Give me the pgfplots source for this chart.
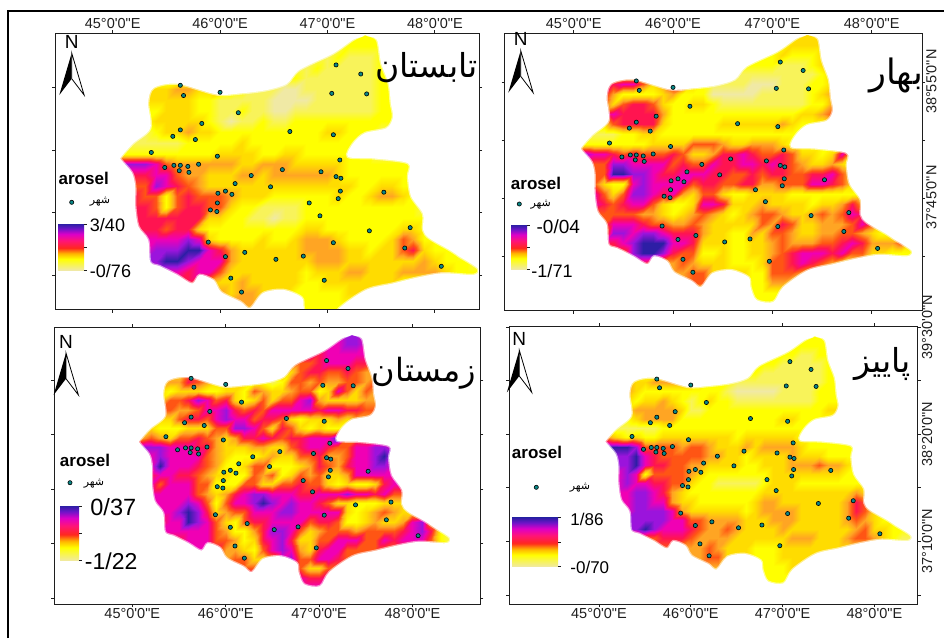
\documentclass[border=0pt]{standalone}
\usepackage{pgfplots}
\usepackage{pgfplotstable}
\usepackage{fontspec}
\pgfplotsset{compat=1.18}
\newfontfamily\lib{Liberation Sans}
\newfontfamily\arabicfont[Script=Arabic]{DejaVu Sans}
\TeXXeTstate=1
\newcommand\F[1]{\lib\fontsize{#1}{#1}\selectfont}
\definecolor{citycol}{RGB}{10,135,135}
\definecolor{tickcol}{RGB}{30,30,30}
\pgfplotsset{colormap={arosel}{rgb255(0)=(240,233,165) rgb255(1)=(248,243,90) rgb255(2)=(255,255,0) rgb255(3)=(255,220,0) rgb255(4)=(255,165,35) rgb255(5)=(255,85,20) rgb255(6)=(255,20,80) rgb255(7)=(240,0,180) rgb255(8)=(155,20,220) rgb255(9)=(45,30,165)}}
\pgfdeclareverticalshading{aroselbar}{100bp}{rgb(0bp)=(.941,.914,.647);
 rgb(25bp)=(.941,.914,.647); rgb(37bp)=(1,1,0); rgb(43bp)=(1,.706,0); rgb(49bp)=(1,.157,.118); rgb(57bp)=(1,.078,.47); rgb(64bp)=(.863,0,.784); rgb(70bp)=(.431,.078,.784); rgb(75bp)=(.176,.118,.647); rgb(100bp)=(.176,.118,.647)}
\ExplSyntaxOn
\seq_new:N \l_heat_rows_seq
\seq_new:N \l_heat_vals_seq
\tl_new:N \l_heat_out_tl
\int_new:N \l_heat_row_int
\NewDocumentCommand\BuildGrid{mm}{
  \tl_clear:N \l_heat_out_tl
  \int_zero:N \l_heat_row_int
  \seq_set_split:Nnn \l_heat_rows_seq {;} {#2}
  \seq_map_inline:Nn \l_heat_rows_seq {
    \seq_set_split:Nnn \l_heat_vals_seq {~} {##1}
    \seq_remove_all:Nn \l_heat_vals_seq {}
    \int_compare:nNnF {\seq_count:N \l_heat_vals_seq} = {35}
      {\iow_term:x {ROW~\int_use:N \l_heat_row_int ~ has ~ \seq_count:N \l_heat_vals_seq}}
    \int_step_inline:nn {35} {
      \tl_put_right:Nx \l_heat_out_tl {
        (\fp_eval:n {45+0.1*(####1-1)},\fp_eval:n {39.4-0.1*\l_heat_row_int})
        [\seq_item:Nn \l_heat_vals_seq {####1}]~
      }
    }
    \int_incr:N \l_heat_row_int
  }
  \tl_set_eq:NN #1 \l_heat_out_tl
}
\ExplSyntaxOff
\BuildGrid\gridSummer{
1 1 1 1 1 1 1 1 1 1 1 1 1 1 1 1 1 1 1 1 1 1 1 2 2 2 1 1 1 1 1 1 1 1 1;
1 1 1 1 1 1 1 1 1 1 1 1 1 1 1 1 1 1 1 1 1 1 2 2 2 2 1 1 1 1 1 1 1 1 1;
1 1 1 1 1 1 1 1 1 1 1 1 1 1 1 1 1 1 1 1 1 2 1 1 1 2 2 1 1 1 1 1 1 1 1;
1 1 1 1 1 1 1 1 1 1 1 1 1 1 1 1 1 1 1 2 1 1 1 1 1 2 2 1 1 1 1 1 1 1 1;
1 1 1 1 1 1 1 1 1 1 1 1 1 1 1 1 1 2 1 1 1 1 1 1 1 2 2 1 1 1 1 1 1 1 1;
1 1 1 3 3 3 4 4 3 3 4 3 2 1 1 1 0 0 1 1 1 1 1 1 1 2 2 1 1 1 1 1 1 1 1;
1 1 1 3 3 3 3 3 2 2 1 1 1 1 1 0 0 0 0 1 1 1 1 1 1 2 2 1 1 1 1 1 1 1 1;
1 1 1 2 2 3 3 3 2 2 1 1 2 1 1 0 0 1 1 1 1 1 1 1 1 2 2 2 1 1 1 1 1 1 1;
1 1 1 2 3 3 3 3 3 2 1 0 1 1 2 1 1 2 2 2 2 2 2 2 2 2 2 2 1 1 1 1 1 1 1;
1 1 1 1 2 3 3 4 3 3 2 2 2 2 2 2 2 2 2 2 3 3 2 2 2 1 1 1 1 1 1 1 1 1 1;
1 1 1 1 1 1 1 2 2 2 2 2 3 2 2 2 2 2 2 2 2 2 2 1 1 1 1 1 1 1 1 1 1 1 1;
1 2 2 2 2 2 2 2 2 2 3 3 3 3 2 2 3 3 2 2 2 2 2 2 2 1 1 1 1 1 1 1 1 1 1;
8 8 8 8 7 5 4 4 4 4 4 4 3 3 4 4 4 3 3 3 3 3 2 2 2 2 2 2 2 2 1 1 1 1 1;
6 6 6 6 7 7 5 4 4 3 3 3 4 4 3 4 4 4 4 4 4 3 2 2 2 2 2 2 2 2 1 1 1 1 1;
5 5 5 5 8 7 6 5 4 3 3 3 3 3 3 3 3 3 3 3 3 3 3 2 2 3 3 2 2 2 1 1 1 1 1;
6 6 6 5 5 2 5 6 5 5 5 4 3 3 3 2 2 2 2 2 2 3 2 2 3 4 4 3 2 1 1 1 1 1 1;
6 6 6 6 5 2 5 6 6 5 5 3 2 2 1 1 1 1 2 2 2 2 2 2 2 2 2 2 2 1 1 1 1 1 1;
6 6 6 6 6 6 6 6 6 3 3 2 2 1 1 0 1 1 2 2 2 2 2 2 2 2 2 2 2 2 1 1 1 1 1;
6 6 6 6 6 5 6 6 3 2 2 2 2 2 2 2 2 2 3 3 2 2 2 2 2 2 2 3 3 2 1 1 1 1 1;
7 7 7 7 7 7 7 8 7 3 2 2 2 2 3 2 2 3 4 4 4 3 2 2 2 2 3 5 4 2 2 2 1 1 1;
7 7 7 7 8 8 8 9 9 7 6 4 3 3 3 3 3 3 4 4 4 4 3 3 2 3 3 5 6 3 2 2 2 1 1;
8 8 8 8 8 9 9 8 7 7 7 4 3 3 3 3 3 3 3 4 4 4 3 3 3 3 3 3 3 4 3 2 2 2 1;
7 7 7 7 7 7 7 6 7 7 5 3 3 3 3 3 3 3 2 3 3 3 4 4 3 3 3 4 4 4 4 3 2 2 2;
6 6 6 6 6 6 6 6 5 4 3 3 4 3 3 3 3 3 2 2 3 3 3 3 3 3 3 2 2 2 2 2 2 2 2;
5 5 5 5 5 5 5 5 5 4 4 3 4 4 3 3 3 2 2 2 2 2 3 3 3 2 2 2 2 2 2 2 2 2 2;
4 4 4 4 4 4 4 4 4 4 4 4 4 4 3 3 2 2 2 2 2 2 2 2 2 2 2 2 2 2 2 2 2 2 2;
3 3 3 3 3 3 3 3 3 3 3 3 3 3 3 2 2 2 2 2 2 2 2 2 2 2 2 2 2 2 2 2 2 2 2;
3 3 3 3 3 3 3 3 3 3 3 3 3 3 3 2 2 2 2 2 2 2 2 2 2 2 2 2 2 2 2 2 2 2 2}
\BuildGrid\gridSpring{
2 2 2 2 2 2 2 2 2 2 2 2 2 2 2 2 2 2 2 2 2 2 2 3 3 3 3 2 2 2 2 2 2 2 2;
2 2 2 2 2 2 2 2 2 2 2 2 2 2 2 2 2 2 2 2 2 2 3 3 3 3 3 2 2 2 2 2 2 2 2;
2 2 2 2 2 2 2 2 2 2 2 2 2 2 2 2 2 2 2 2 2 3 2 2 2 3 3 2 2 2 2 2 2 2 2;
2 2 2 2 2 2 2 2 2 2 2 2 2 2 2 2 2 2 2 2 2 1 1 1 2 3 4 2 2 2 2 2 2 2 2;
2 2 2 2 2 2 2 2 2 2 2 2 2 2 2 1 1 1 1 1 1 1 1 1 1 2 3 2 2 2 2 2 2 2 2;
2 2 2 5 6 7 7 5 3 4 6 6 3 2 1 1 1 1 0 0 0 1 1 1 2 2 3 3 2 2 2 2 2 2 2;
2 2 3 6 4 2 2 2 2 3 4 2 2 2 0 0 0 0 0 1 1 1 1 1 2 3 4 3 2 2 2 2 2 2 2;
2 2 3 5 3 5 6 6 5 3 2 2 3 3 2 1 1 1 1 1 1 1 1 1 2 2 4 3 2 2 2 2 2 2 2;
2 2 3 6 7 6 6 6 6 4 2 2 2 2 2 2 2 2 2 2 2 2 2 3 3 4 5 4 2 2 2 2 2 2 2;
2 2 2 3 5 6 6 6 6 3 2 2 2 2 2 3 3 3 3 3 3 4 3 2 2 2 2 2 2 2 2 2 2 2 2;
1 1 1 1 1 2 2 3 3 2 2 2 2 2 2 2 2 2 2 2 2 2 2 2 2 2 2 2 2 2 2 2 2 2 2;
2 2 2 2 2 2 2 2 3 3 3 3 5 5 5 4 3 3 4 4 4 3 2 2 2 2 2 2 2 2 2 2 2 2 2;
7 8 7 7 6 5 6 5 5 5 6 5 3 3 4 6 6 7 6 5 5 6 5 3 3 2 3 7 3 2 2 2 2 2 2;
6 6 5 5 8 8 7 7 7 7 5 6 5 5 7 6 6 7 7 6 7 6 5 4 3 3 4 3 2 2 2 2 2 2 2;
5 5 5 5 9 9 8 8 7 6 6 7 7 7 6 6 5 5 6 5 6 6 5 5 6 6 7 5 3 2 2 2 2 2 2;
5 5 5 3 2 2 7 8 7 7 7 7 5 6 6 5 5 6 6 4 4 5 5 5 7 7 6 5 3 2 2 2 2 2 2;
7 7 7 5 3 5 8 8 7 6 7 4 3 5 5 3 2 2 3 3 3 3 2 2 2 2 2 2 2 2 2 2 2 2 2;
7 7 7 6 5 6 7 7 5 3 2 2 3 7 7 6 3 3 3 4 3 3 3 3 2 3 3 4 6 4 2 2 2 2 2;
5 5 5 5 5 5 5 4 4 3 2 3 4 5 4 3 2 3 4 5 5 4 3 3 4 5 4 5 7 6 3 2 2 2 2;
5 5 5 5 7 7 7 6 5 5 4 4 5 4 3 3 3 3 3 5 4 6 5 3 3 4 4 4 5 7 5 3 2 2 2;
4 4 4 4 8 8 7 8 8 7 6 6 6 4 3 3 2 2 4 3 5 5 4 3 3 4 4 5 5 4 3 2 2 2 2;
6 6 6 6 6 7 8 9 9 9 7 7 6 3 3 3 2 2 3 3 4 5 4 4 4 5 5 6 7 6 4 4 4 5 3;
5 5 5 5 5 5 8 9 9 8 6 5 5 2 2 3 2 2 3 3 4 5 6 7 7 7 6 7 5 5 3 3 2 2 2;
6 6 6 6 6 6 6 6 5 4 4 5 4 3 3 3 2 2 2 3 5 5 6 7 6 5 4 3 3 3 2 2 2 2 2;
4 4 4 4 4 4 4 4 4 4 4 4 5 5 3 3 3 3 2 2 5 5 5 4 4 3 3 3 3 3 2 2 2 2 2;
4 4 4 4 4 4 4 4 4 4 4 4 5 5 4 3 3 3 2 2 4 4 3 3 3 3 2 2 2 2 2 2 2 2 2;
2 2 2 2 2 2 2 2 2 2 2 2 2 2 2 2 2 2 2 2 2 2 2 2 2 2 2 2 2 2 2 2 2 2 2;
2 2 2 2 2 2 2 2 2 2 2 2 2 2 2 2 2 2 2 2 2 2 2 2 2 2 2 2 2 2 2 2 2 2 2}
\BuildGrid\gridWinter{
7 7 7 7 7 7 7 7 7 7 7 7 7 7 7 7 7 7 7 7 7 7 7 8 8 7 7 7 7 7 7 7 7 7 7;
7 7 7 7 7 7 7 7 7 7 7 7 7 7 7 7 7 7 7 7 7 7 7 8 8 7 7 7 7 7 7 7 7 7 7;
7 7 7 7 7 7 7 7 7 7 7 7 7 7 7 7 7 7 7 7 6 7 7 7 7 7 7 7 7 7 7 7 7 7 7;
5 5 5 5 5 5 5 5 5 5 5 5 5 5 5 5 5 5 5 5 6 7 7 7 6 6 5 5 5 5 5 5 5 5 5;
4 4 4 4 4 3 5 5 4 4 4 4 4 4 4 4 4 3 5 6 6 5 5 6 5 4 4 4 4 4 4 4 4 4 4;
3 3 3 3 4 4 6 5 4 3 3 3 3 2 2 1 2 5 5 4 5 4 4 5 5 4 5 4 4 4 4 4 4 4 4;
3 3 3 3 2 3 3 3 2 2 3 3 2 5 4 3 3 4 5 5 2 3 7 5 3 5 4 4 4 4 4 4 4 4 4;
3 3 3 3 5 5 6 8 7 5 6 3 2 3 5 3 5 5 7 8 4 3 3 3 3 4 4 4 4 4 4 4 4 4 4;
5 5 5 5 5 4 4 5 7 7 8 6 5 6 5 7 7 7 7 7 6 7 7 6 6 5 5 5 5 5 5 5 5 5 5;
3 3 3 3 3 5 6 6 5 7 8 7 7 5 6 6 5 3 2 3 3 3 4 3 4 4 4 4 4 4 4 4 4 4 4;
3 3 3 2 2 2 3 3 3 5 5 8 8 7 5 3 6 5 3 2 3 2 2 3 3 3 3 3 3 3 3 3 3 3 3;
2 4 5 4 3 5 5 6 5 4 3 4 6 6 7 6 5 6 6 7 7 7 9 5 5 5 5 5 5 5 5 5 5 5 5;
8 8 8 8 7 7 7 6 6 4 3 3 3 4 4 3 3 5 6 7 7 6 5 5 7 7 8 8 7 7 7 7 7 7 7;
7 7 7 8 7 7 7 7 5 4 3 2 2 2 3 4 3 3 5 5 6 4 4 5 7 7 8 9 7 7 7 7 7 7 7;
7 7 7 9 7 7 7 6 5 4 2 2 3 5 5 2 2 2 3 4 6 5 4 6 7 7 8 8 7 7 7 7 7 7 7;
6 6 6 7 7 6 6 5 4 3 3 2 2 5 4 5 2 3 5 4 5 3 3 4 7 7 7 7 7 8 7 7 7 7 7;
7 7 7 5 7 7 7 5 5 2 2 2 5 5 3 3 5 5 6 5 5 3 2 3 2 2 3 6 7 7 7 7 7 7 7;
7 7 7 7 7 7 7 5 4 3 4 6 7 8 8 7 7 7 6 6 7 7 7 8 7 7 6 7 5 5 5 5 5 5 5;
7 7 7 7 7 7 8 7 5 2 5 7 7 8 9 8 7 8 7 7 6 5 3 3 2 2 2 3 3 3 3 3 3 3 3;
7 7 7 7 7 8 9 8 6 3 4 5 5 7 7 7 8 8 7 7 7 7 7 3 2 3 4 5 4 3 3 3 3 3 3;
6 6 6 6 7 7 9 8 7 5 3 2 5 6 6 7 7 7 7 5 6 6 5 2 2 3 4 3 3 4 7 8 4 3 3;
7 7 7 7 7 7 7 7 7 5 4 2 2 4 6 8 8 7 5 3 4 5 5 5 4 5 5 5 5 6 7 8 6 2 1;
6 6 6 6 6 6 7 7 7 5 5 4 2 3 6 7 8 6 3 3 5 5 7 7 7 5 5 7 6 7 7 7 5 2 1;
7 7 7 7 7 7 7 7 7 6 4 4 3 2 5 7 8 7 4 3 6 7 7 5 5 5 5 5 5 5 5 5 5 5 5;
5 5 5 5 5 5 5 5 5 5 4 5 5 3 3 4 7 8 5 5 7 7 6 5 5 5 5 5 5 5 5 5 5 5 5;
5 5 5 5 5 5 5 5 5 5 5 5 5 5 5 4 5 7 5 3 3 5 5 5 5 5 5 5 5 5 5 5 5 5 5;
7 7 7 7 7 7 7 7 7 7 7 7 7 7 7 7 7 7 7 6 6 7 7 7 7 7 7 7 7 7 7 7 7 7 7;
7 7 7 7 7 7 7 7 7 7 7 7 7 7 7 7 7 7 7 7 7 7 7 7 7 7 7 7 7 7 7 7 7 7 7}
\BuildGrid\gridAutumn{
2 2 2 2 2 2 2 2 2 2 2 2 2 2 2 2 2 2 2 2 2 2 2 2 2 2 2 2 2 2 2 2 2 2 2;
2 2 2 2 2 2 2 2 2 2 2 2 2 2 2 2 2 2 2 2 2 2 2 2 2 2 2 2 2 2 2 2 2 2 2;
2 2 2 2 2 2 2 2 2 2 2 2 2 2 2 2 2 2 2 2 2 2 1 1 2 2 2 2 2 2 2 2 2 2 2;
2 2 2 2 2 2 2 2 2 2 2 2 2 2 2 2 2 2 2 2 1 1 1 1 1 2 2 2 2 2 2 2 2 2 2;
2 2 2 2 2 2 2 2 2 2 2 2 2 2 2 2 2 2 1 1 1 1 1 1 1 2 2 2 2 2 2 2 2 2 2;
3 3 3 3 3 3 4 4 4 4 4 3 2 2 2 1 1 1 1 1 1 1 1 1 1 2 2 2 2 2 2 2 2 2 2;
4 4 4 4 3 2 2 2 2 2 2 2 2 2 1 0 0 0 0 0 1 1 1 1 2 2 2 2 2 2 2 2 2 2 2;
3 3 3 3 2 3 3 4 3 2 1 2 3 2 2 1 1 1 1 1 1 1 1 1 2 2 2 2 2 2 2 2 2 2 2;
3 3 3 3 4 4 4 4 4 3 1 1 2 2 2 2 2 2 2 2 2 2 2 2 2 3 3 2 2 2 2 2 2 2 2;
1 1 1 2 3 4 4 4 4 2 2 2 2 2 2 2 2 2 2 2 3 3 2 2 2 2 2 2 2 2 2 2 2 2 2;
1 1 1 1 1 1 1 2 2 2 2 2 2 2 2 2 2 2 2 2 2 2 2 2 2 2 2 2 2 2 2 2 2 2 2;
1 4 3 2 3 2 2 3 3 3 3 3 3 3 3 2 3 3 3 3 3 3 2 2 2 2 2 2 2 2 2 2 2 2 2;
9 9 9 9 8 5 5 5 5 4 5 5 4 3 3 3 4 3 4 4 4 4 3 2 2 2 2 2 2 2 2 2 2 2 2;
8 8 8 8 9 7 6 5 5 5 5 5 4 4 3 3 2 3 3 3 3 4 3 3 3 2 2 2 2 2 2 2 2 2 2;
8 8 8 8 9 7 6 6 5 5 4 4 3 3 3 3 2 2 3 3 3 4 4 4 5 4 4 3 2 2 2 2 2 2 2;
7 7 7 8 7 2 5 5 5 5 4 3 2 2 2 2 2 2 2 3 3 3 3 3 3 3 3 2 2 2 2 2 2 2 2;
7 7 7 8 7 7 6 6 5 5 3 2 2 1 1 1 1 1 2 3 3 3 2 2 2 2 2 2 2 2 2 2 2 2 2;
7 7 7 7 8 8 7 6 4 3 2 2 2 2 2 2 2 2 3 3 3 3 3 3 3 3 3 3 4 3 2 2 2 2 2;
7 7 7 7 8 8 7 7 4 3 3 2 2 2 2 2 2 3 4 4 3 3 3 3 3 3 3 4 6 5 2 2 2 2 2;
7 7 7 7 8 8 8 8 7 4 3 3 3 3 3 3 2 3 4 4 4 4 3 3 3 3 3 4 6 5 3 2 2 2 2;
8 8 8 8 8 8 8 8 7 7 5 5 4 4 4 4 3 3 3 4 4 4 3 3 3 3 3 4 5 4 3 2 2 2 2;
8 8 8 8 8 9 8 7 7 7 6 5 4 4 5 4 3 3 3 3 4 3 3 3 3 3 3 3 4 5 3 3 2 2 2;
5 5 5 5 5 5 5 6 6 6 5 4 4 4 4 3 3 3 3 3 3 4 4 4 3 3 3 4 5 5 4 3 2 1 1;
5 5 5 5 5 5 5 5 5 4 4 4 5 4 3 3 3 2 2 2 3 3 3 3 3 3 3 3 3 3 3 2 2 2 2;
4 4 4 4 4 4 4 4 4 4 4 4 5 5 3 3 3 2 2 2 3 3 3 3 3 3 3 3 3 3 3 2 2 2 2;
4 4 4 4 4 4 4 4 4 4 4 4 4 4 3 3 3 2 2 2 2 3 3 3 3 2 2 2 2 2 2 2 2 2 2;
2 2 2 2 2 2 2 2 2 2 2 2 2 2 2 2 2 2 2 2 2 2 2 2 2 2 2 2 2 2 2 2 2 2 2;
2 2 2 2 2 2 2 2 2 2 2 2 2 2 2 2 2 2 2 2 2 2 2 2 2 2 2 2 2 2 2 2 2 2 2}
\pgfplotstableread{
lon lat
47.08 39.125
47.31 39.04
47.04 38.86
47.365 38.855
45.63 38.935
45.66 38.84
46.0 38.87
46.17 38.68
45.83 38.58
45.63 38.52
45.56 38.46
45.77 38.43
46.65 38.505
47.055 38.475
45.36 38.31
45.975 38.275
47.115 38.24
45.485 38.17
45.57 38.19
45.63 38.19
45.70 38.18
45.80 38.20
45.62 38.14
45.71 38.125
46.29 38.095
46.58 38.15
46.94 38.13
47.08 38.085
47.125 38.07
46.14 38.02
46.47 37.99
45.98 37.93
46.05 37.95
46.11 37.92
47.12 37.95
47.525 37.94
47.10 37.88
45.975 37.84
46.83 37.84
45.91 37.775
45.97 37.76
46.93 37.72
47.77 37.61
47.39 37.58
45.89 37.475
47.055 37.47
47.72 37.42
46.23 37.38
46.05 37.34
46.775 37.345
46.52 37.315
48.06 37.25
46.10 37.14
46.97 37.12
46.20 37.01
}\cities
\def\border{(47.46,39.36) (47.50,39.14) (47.57,38.95) (47.59,38.77) (47.61,38.64) (47.55,38.535) (47.35,38.49) (47.24,38.395) (47.19,38.27) (47.43,38.255) (47.75,38.21) (47.75,38.085) (47.78,37.90) (47.89,37.74) (47.89,37.59) (47.95,37.51) (48.14,37.40) (48.23,37.34) (48.40,37.23) (48.36,37.17) (48.08,37.185) (47.86,37.15) (47.61,37.09) (47.36,37.03) (47.11,36.86) (47.01,36.71) (46.84,36.73) (46.78,36.86) (46.76,36.96) (46.59,37.03) (46.40,37.0) (46.28,36.86) (46.19,36.92) (46.01,37.01) (45.94,37.12) (45.81,37.17) (45.74,37.09) (45.60,37.17) (45.44,37.25) (45.35,37.29) (45.33,37.495) (45.24,37.62) (45.21,37.81) (45.21,37.99) (45.18,38.12) (45.08,38.24) (45.08,38.27) (45.19,38.395) (45.35,38.535) (45.33,38.77) (45.38,38.91) (45.60,38.95) (45.97,38.85) (46.19,38.86) (46.43,38.89) (46.62,38.95) (46.74,39.08) (47.05,39.23) (47.24,39.36)}
\pgfplotsset{
 mapax/.style={scale only axis, clip=true, axis on top=true,
  tick align=outside, tick pos=both, major tick length=3pt,
  xtick={45,46,47,48}, xticklabels={45°0'0"E,46°0'0"E,47°0'0"E,48°0'0"E},
  ytick={36.5833,37.1667,37.75,38.3333,38.9167,39.5}, yticklabels={},
  every tick label/.append style={font=\F{14.5}, text=tickcol},
  axis line style={line width=.95pt, tickcol}, tick style={line width=.8pt, tickcol},
  xticklabel style={inner sep=1pt},
  point meta min=0, point meta max=9, colormap name=arosel},
 heat/.style={surf, shader=interp, mesh/cols=35, point meta=explicit, forget plot},
 mask/.style={fill=white, draw=none, even odd rule, smooth, tension=.5, forget plot},
 edge/.style={draw=white, line width=2.5pt, opacity=.55, smooth, tension=.5, forget plot},
 town/.style={only marks, mark=*, mark size=2.1pt, mark options={fill=citycol, draw=black, line width=.6pt}, forget plot},
}
\newcommand\heatplot[1]{\addplot[heat] coordinates {#1};}
\newcommand\layers[1]{%
 \expandafter\heatplot\expandafter{#1}
 \expandafter\maskplot\expandafter{\border}
 \expandafter\edgeplot\expandafter{\border}
 \addplot[town] table[x=lon,y=lat] {\cities};
}
\newcommand\maskplot[1]{\addplot[mask] coordinates {(43,35) (50,35) (50,41) (47.35,41) (47.35,39.6) (47.35,39.41) #1 (47.35,39.41) (47.35,39.6) (47.35,41) (43,41) (43,35)};}
\newcommand\edgeplot[1]{\addplot[edge] coordinates {(47.35,39.41) #1 (47.35,39.41)};}
\newcommand\northarrow[2]{%
 \node[font=\F{19},inner sep=0pt] at (#1,#2) {N};
 \fill[black] (#1,#2+11.3) -- (#1-12.4,#2+53.3) -- (#1,#2+37) -- cycle;
 \draw[black,line width=.8pt,fill=white] (#1,#2+11.3) -- (#1+12.4,#2+53.3) -- (#1,#2+37) -- cycle;
}
\newcommand\legendblock[6]{%
 \node[font=\F{17}\bfseries,inner sep=0pt] at (#1,#2) {arosel};
 \node[font=\arabicfont\fontsize{11}{11}\selectfont,inner sep=0pt] at (#3,#4) {\beginR شهر\endR};
 \shade[shading=aroselbar] (#5) rectangle (#6);
}
\begin{document}
\begin{tikzpicture}
\path[use as bounding box] (0,0) rectangle (944pt,-638pt);
\draw[black,line width=2pt] (8pt,-638pt) -- (8pt,-11pt) -- (944pt,-11pt);
\begin{axis}[mapax, at={(55pt,-33pt)}, anchor=north west, width=424pt, height=276.7pt,
 xmin=44.463, xmax=48.411, ymin=36.846, ymax=39.422, xticklabel pos=upper]
 \layers{\gridSummer}
\end{axis}
\begin{axis}[mapax, at={(504.7pt,-33pt)}, anchor=north west, width=417.3pt, height=277.7pt,
 xmin=44.305, xmax=48.507, ymin=36.623, ymax=39.417, xticklabel pos=upper,
 yticklabel pos=right, yticklabels={,,37°45'0"N,,38°55'0"N,},
 yticklabel style={rotate=90, anchor=north, inner sep=1pt, xshift=1pt}]
 \layers{\gridSpring}
\end{axis}
\begin{axis}[mapax, at={(54pt,-327.3pt)}, anchor=north west, width=426.3pt, height=276.7pt,
 xmin=44.162, xmax=48.726, ymin=36.519, ymax=39.481, xticklabel pos=lower]
 \layers{\gridWinter}
\end{axis}
\begin{axis}[mapax, at={(509pt,-326pt)}, anchor=north west, width=408.7pt, height=278pt,
 xmin=44.02, xmax=48.472, ymin=36.485, ymax=39.513, xticklabel pos=lower,
 yticklabel pos=right, yticklabels={,37°10'0"N,,38°20'0"N,,39°30'0"N},
 yticklabel style={rotate=90, anchor=north, inner sep=1pt}]
 \layers{\gridAutumn}
\end{axis}
\begin{scope}[x=1pt,y=-1pt]
 \northarrow{71.7}{41.7}
 \northarrow{520.7}{39.3}
 \northarrow{66}{341.7}
 \northarrow{519.3}{339}
 \node[font=\arabicfont\fontsize{33}{33}\selectfont,inner sep=0pt] at (426.7,68) {\beginR تابستان\endR};
 \node[font=\arabicfont\fontsize{35}{35}\selectfont,inner sep=0pt] at (896,75) {\beginR بهار\endR};
 \node[font=\arabicfont\fontsize{32}{32}\selectfont,inner sep=0pt] at (424,373) {\beginR زمستان\endR};
 \node[font=\arabicfont\fontsize{33}{33}\selectfont,inner sep=0pt] at (882.5,364) {\beginR پاییز\endR};
 \legendblock{83.7}{178}{100}{202}{58,270}{84,224}
 \legendblock{536}{183}{540.7}{205}{511,269}{527,225}
 \legendblock{85}{460}{94}{483.3}{60,560.7}{79,506}
 \legendblock{537}{452}{580}{487.3}{512,566.7}{558,517.7}
 \foreach \x/\y in {71.7/202.3,519.3/204,70/482.7,536.3/487.3}
   \filldraw[fill=citycol,draw=black,line width=.6pt] (\x,\y) circle (2.1pt);
 \foreach \x/\y in {84/224,84/247,84/270,527/225,527/247,527/269,79/506,79/533,79/560.7,558/517.7,558/542,558/566.7}
   \draw[tickcol,line width=.7pt] (\x,\y) -- ++(3,0);
 \node[font=\F{18},inner sep=0pt] at (107.5,225) {3/40};
 \node[font=\F{18},inner sep=0pt] at (110.5,271) {-0/76};
 \node[font=\F{19},inner sep=0pt] at (558.3,226.7) {-0/04};
 \node[font=\F{18},inner sep=0pt] at (552,270.7) {-1/71};
 \node[font=\F{23.5},inner sep=0pt] at (113.3,507) {0/37};
 \node[font=\F{23},inner sep=0pt] at (111.2,561) {-1/22};
 \node[font=\F{17},inner sep=0pt] at (587,519.3) {1/86};
 \node[font=\F{17},inner sep=0pt] at (589.8,567) {-0/70};
\end{scope}
\end{tikzpicture}
\end{document}
